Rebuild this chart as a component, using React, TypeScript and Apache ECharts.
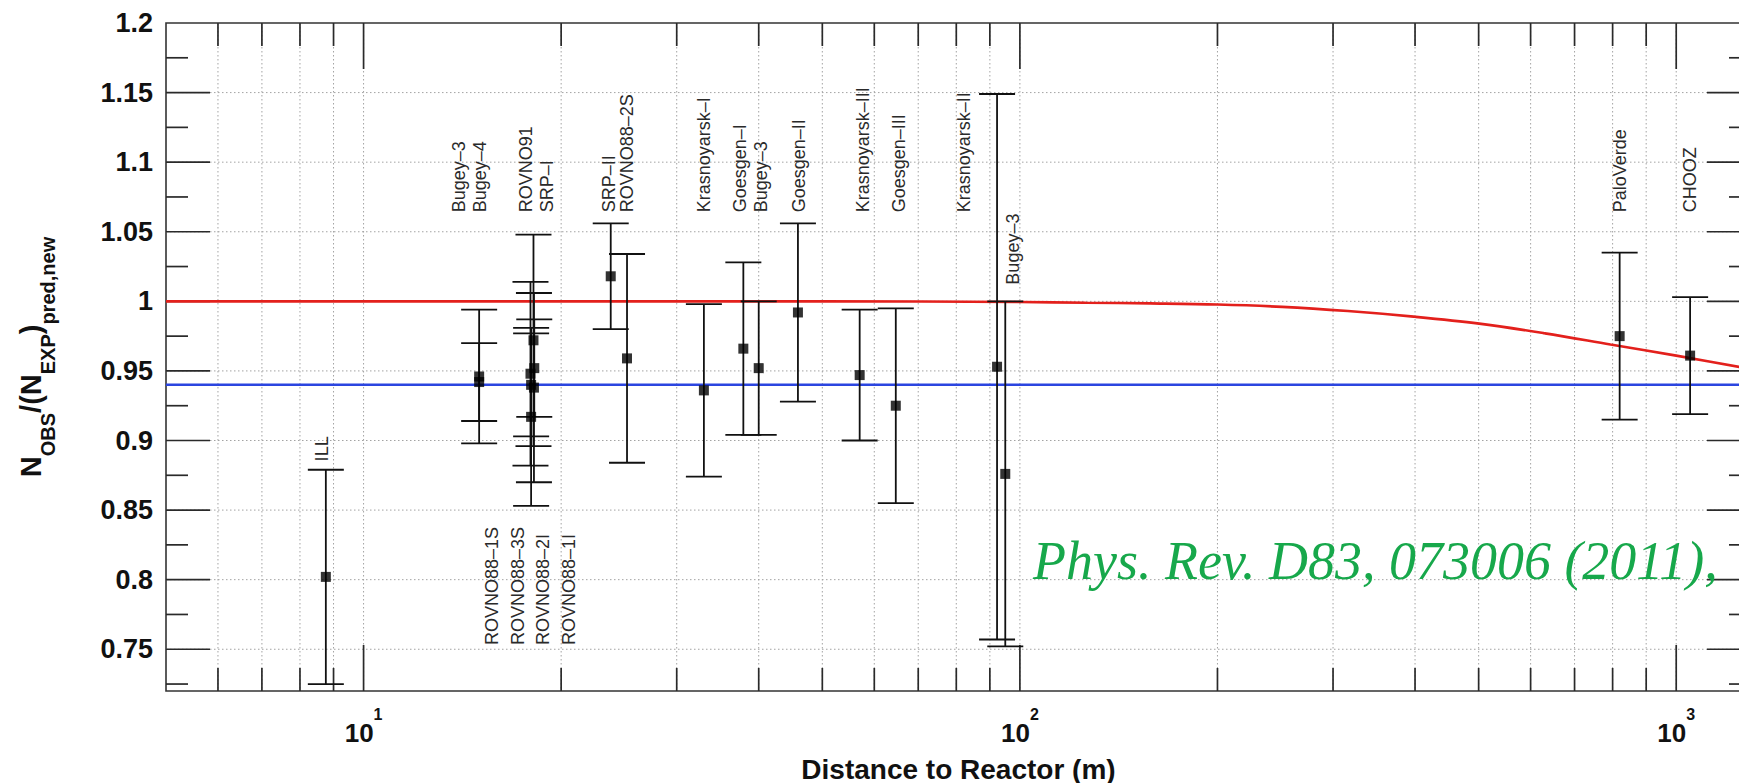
import React, { useEffect, useRef } from 'react';
import * as echarts from 'echarts';

const X_MIN = 5;
const X_MAX = 1300;
const Y_MIN = 0.72;
const Y_MAX = 1.2;

const EXP_NAMES = ['ILL', 'Bugey-4', 'ROVNO91', 'Bugey-3', 'SRP-I', 'ROVNO88-1I', 'ROVNO88-2I', 'ROVNO88-1S', 'ROVNO88-3S', 'SRP-II', 'ROVNO88-2S', 'Krasnoyarsk-I', 'Goesgen-I', 'Bugey-3 (40m)', 'Goesgen-II', 'Krasnoyarsk-III', 'Goesgen-III', 'Krasnoyarsk-II', 'Bugey-3 (95m)', 'PaloVerde', 'CHOOZ'];
const EXP_DIST = [8.76, 15.0, 18.0, 15.0, 18.2, 18.0, 17.96, 18.15, 18.18, 23.8, 25.2, 33.0, 37.9, 40.0, 45.9, 57.0, 64.7, 92.3, 95.0, 820, 1050];
const EXP_RATIO = [0.802, 0.942, 0.940, 0.946, 0.952, 0.917, 0.948, 0.972, 0.938, 1.018, 0.959, 0.936, 0.966, 0.952, 0.992, 0.947, 0.925, 0.953, 0.876, 0.975, 0.961];
const EXP_ERR = [0.077, 0.028, 0.037, 0.048, 0.035, 0.064, 0.066, 0.076, 0.068, 0.038, 0.075, 0.062, 0.062, 0.048, 0.064, 0.047, 0.070, 0.196, 0.124, 0.060, 0.042];

const LABEL_TEXT = ['ILL', 'Bugey–3', 'Bugey–4', 'ROVNO91', 'SRP–I', 'SRP–II', 'ROVNO88–2S', 'Krasnoyarsk–I', 'Goesgen–I', 'Bugey–3', 'Goesgen–II', 'Krasnoyarsk–III', 'Goesgen–III', 'Krasnoyarsk–II', 'Bugey–3', 'PaloVerde', 'CHOOZ', 'ROVNO88–1S', 'ROVNO88–3S', 'ROVNO88–2I', 'ROVNO88–1I'];
const LABEL_X = [8.64, 13.97, 15.04, 17.67, 19.01, 23.62, 25.2, 33.0, 37.5, 40.35, 46.1, 57.6, 65.4, 82.1, 97.7, 820, 1051, 15.7, 17.18, 18.75, 20.53];
const LABEL_Y = [0.885, 1.064, 1.064, 1.064, 1.064, 1.064, 1.064, 1.064, 1.064, 1.064, 1.064, 1.064, 1.064, 1.064, 1.012, 1.064, 1.064, 0.753, 0.753, 0.753, 0.753];

const RED_X = [5, 10, 20, 50, 100, 126, 158, 200, 251, 316, 398, 501, 631, 794, 1000, 1259, 1300];
const RED_Y = [1.0, 1.0, 1.0, 1.0, 0.9995, 0.999, 0.9985, 0.9977, 0.996, 0.993, 0.989, 0.984, 0.977, 0.969, 0.961, 0.9525, 0.9515];
const BLUE_X = [5, 1300];
const BLUE_Y = [0.94, 0.94];

const X_MAJOR_TICKS = [10, 100, 1000];
const X_MINOR_TICKS = [6, 7, 8, 9, 20, 30, 40, 50, 60, 70, 80, 90, 200, 300, 400, 500, 600, 700, 800, 900];
const Y_MAJOR_TICKS = [0.75, 0.8, 0.85, 0.9, 0.95, 1.0, 1.05, 1.1, 1.15];
const Y_MINOR_TICKS = [0.725, 0.775, 0.825, 0.875, 0.925, 0.975, 1.025, 1.075, 1.125, 1.175];

const CITATION = 'Phys. Rev. D83, 073006 (2011),';

const CHART_W = 1800;
const CHART_H = 783;
const FONT = 'Liberation Sans';

const frameItem = (params: any, api: any) => {
  const cs = params.coordSys;
  const left = cs.x;
  const right = cs.x + cs.width;
  const top = cs.y;
  const bottom = cs.y + cs.height;
  const children: any[] = [];
  const dot = { stroke: '#a3a3a3', lineWidth: 1, lineDash: [1.5, 2.5], fill: null };
  const tick = { stroke: '#2a2a2a', lineWidth: 1.7, fill: null };
  const line = (x1: number, y1: number, x2: number, y2: number, style: any) =>
    children.push({ type: 'line', shape: { x1, y1, x2, y2 }, style });
  [...X_MINOR_TICKS, ...X_MAJOR_TICKS].forEach((v) => {
    const px = api.coord([v, Y_MIN])[0];
    line(px, top, px, bottom, dot);
  });
  Y_MAJOR_TICKS.forEach((v) => {
    const py = api.coord([X_MIN, v])[1];
    line(left, py, right, py, dot);
  });
  X_MINOR_TICKS.forEach((v) => {
    const px = api.coord([v, Y_MIN])[0];
    line(px, bottom, px, bottom - 23, tick);
    line(px, top, px, top + 23, tick);
  });
  X_MAJOR_TICKS.forEach((v) => {
    const px = api.coord([v, Y_MIN])[0];
    line(px, bottom, px, bottom - 46, tick);
    line(px, top, px, top + 46, tick);
  });
  Y_MINOR_TICKS.forEach((v) => {
    const py = api.coord([X_MIN, v])[1];
    line(left, py, left + 22, py, tick);
    line(right, py, right - 22, py, tick);
  });
  Y_MAJOR_TICKS.forEach((v) => {
    const py = api.coord([X_MIN, v])[1];
    line(left, py, left + 44, py, tick);
    line(right, py, right - 44, py, tick);
  });
  return { type: 'group', children };
};

const errItem = (params: any, api: any) => {
  const x = api.value(0);
  const y = api.value(1);
  const e = api.value(2);
  const hi = api.coord([x, y + e]);
  const lo = api.coord([x, y - e]);
  const w = 18;
  const st = { stroke: '#111', lineWidth: 1.8, fill: null };
  return {
    type: 'group',
    children: [
      { type: 'line', shape: { x1: hi[0], y1: hi[1], x2: lo[0], y2: lo[1] }, style: st },
      { type: 'line', shape: { x1: hi[0] - w, y1: hi[1], x2: hi[0] + w, y2: hi[1] }, style: st },
      { type: 'line', shape: { x1: lo[0] - w, y1: lo[1], x2: lo[0] + w, y2: lo[1] }, style: st },
    ],
  };
};

const labelItem = (params: any, api: any) => {
  const p = api.coord([api.value(0), api.value(1)]);
  return {
    type: 'text',
    x: p[0],
    y: p[1],
    rotation: Math.PI / 2,
    style: {
      text: LABEL_TEXT[params.dataIndex],
      fontSize: 18,
      fontFamily: FONT,
      fill: '#2a2a2a',
      align: 'left',
      verticalAlign: 'middle',
    },
  };
};

const xLabelFormatter = (v: number) => {
  const e = Math.log10(v);
  if (Math.abs(e - Math.round(e)) < 1e-6) return `{b|10}{s|${Math.round(e)}}`;
  return '';
};

const yLabelFormatter = (v: number) => {
  if (Math.abs(v - Y_MIN) < 1e-6) return '';
  return String(parseFloat(v.toFixed(3)));
};

export default function App() {
  const ref = useRef<HTMLDivElement>(null);
  useEffect(() => {
    if (!ref.current) return;
    const chart = echarts.init(ref.current, null, { renderer: 'svg' });
    const option: any = {
      animation: false,
      backgroundColor: '#ffffff',
      textStyle: { fontFamily: FONT },
      grid: {
        left: 166,
        right: CHART_W - 1751,
        top: 23,
        bottom: CHART_H - 691,
        show: true,
        borderColor: '#333',
        borderWidth: 1.6,
        backgroundColor: 'transparent',
        containLabel: false,
        outerBoundsMode: 'none',
      },
      xAxis: {
        type: 'log',
        logBase: 10,
        min: X_MIN,
        max: X_MAX,
        axisLine: { show: false },
        axisTick: { show: false },
        splitLine: { show: false },
        minorTick: { show: false },
        axisLabel: {
          margin: 15,
          formatter: xLabelFormatter,
          rich: {
            b: { fontSize: 26, fontWeight: 'bold', fontFamily: FONT, color: '#111', lineHeight: 40, verticalAlign: 'bottom' },
            s: { fontSize: 16, fontWeight: 'bold', fontFamily: FONT, color: '#111', lineHeight: 20, verticalAlign: 'top' },
          },
        },
        name: 'Distance to Reactor (m)',
        nameLocation: 'middle',
        nameGap: 64,
        nameTextStyle: { fontSize: 28, fontWeight: 'bold', fontFamily: FONT, color: '#111' },
      },
      yAxis: {
        type: 'value',
        min: Y_MIN,
        max: Y_MAX,
        splitNumber: 10,
        axisLine: { show: false },
        axisTick: { show: false },
        splitLine: { show: false },
        axisLabel: {
          margin: 13,
          fontSize: 27,
          fontWeight: 'bold',
          fontFamily: FONT,
          color: '#111',
          showMinLabel: false,
          showMaxLabel: true,
          formatter: yLabelFormatter,
        },
        name: '{n|N}{s|OBS}{n|/(N}{s|EXP}{n|)}{s|pred,new}',
        nameLocation: 'middle',
        nameRotate: 90,
        nameGap: 86,
        nameTextStyle: {
          rich: {
            n: { fontSize: 29, fontWeight: 'bold', fontFamily: FONT, color: '#111', lineHeight: 30, verticalAlign: 'top' },
            s: { fontSize: 20, fontWeight: 'bold', fontFamily: FONT, color: '#111', lineHeight: 64, verticalAlign: 'middle' },
          },
        },
      },
      graphic: [
        {
          type: 'text',
          x: 1033,
          y: 561,
          z: 100,
          style: {
            text: CITATION,
            font: 'italic 54px "Liberation Serif"',
            fill: '#17a84b',
            align: 'left',
            verticalAlign: 'middle',
          },
        },
      ],
      series: [
        {
          type: 'custom',
          name: 'frame',
          silent: true,
          z: 1,
          renderItem: frameItem,
          data: [[10, 1]],
        },
        {
          type: 'line',
          name: 'no oscillation',
          z: 2,
          symbol: 'none',
          lineStyle: { color: '#2b45e0', width: 2.5 },
          data: BLUE_X.map((x, i) => [x, BLUE_Y[i]]),
        },
        {
          type: 'line',
          name: 'prediction',
          z: 2,
          symbol: 'none',
          smooth: 0.35,
          lineStyle: { color: '#e3201c', width: 2.6 },
          data: RED_X.map((x, i) => [x, RED_Y[i]]),
        },
        {
          type: 'custom',
          name: 'errors',
          z: 3,
          renderItem: errItem,
          data: EXP_DIST.map((d, i) => [d, EXP_RATIO[i], EXP_ERR[i], EXP_NAMES[i]]),
        },
        {
          type: 'scatter',
          name: 'ratio',
          z: 4,
          symbol: 'rect',
          symbolSize: 10,
          itemStyle: { color: '#000' },
          data: EXP_DIST.map((d, i) => [d, EXP_RATIO[i]]),
        },
        {
          type: 'custom',
          name: 'labels',
          z: 5,
          silent: true,
          renderItem: labelItem,
          data: LABEL_X.map((x, i) => [x, LABEL_Y[i]]),
        },
      ],
    };
    chart.setOption(option);
    return () => chart.dispose();
  }, []);
  return (
    <div style={{ position: 'fixed', left: 0, top: 0, width: 1739, height: CHART_H, overflow: 'hidden', background: '#fff' }}>
      <div ref={ref} style={{ width: CHART_W, height: CHART_H }} />
    </div>
  );
}
